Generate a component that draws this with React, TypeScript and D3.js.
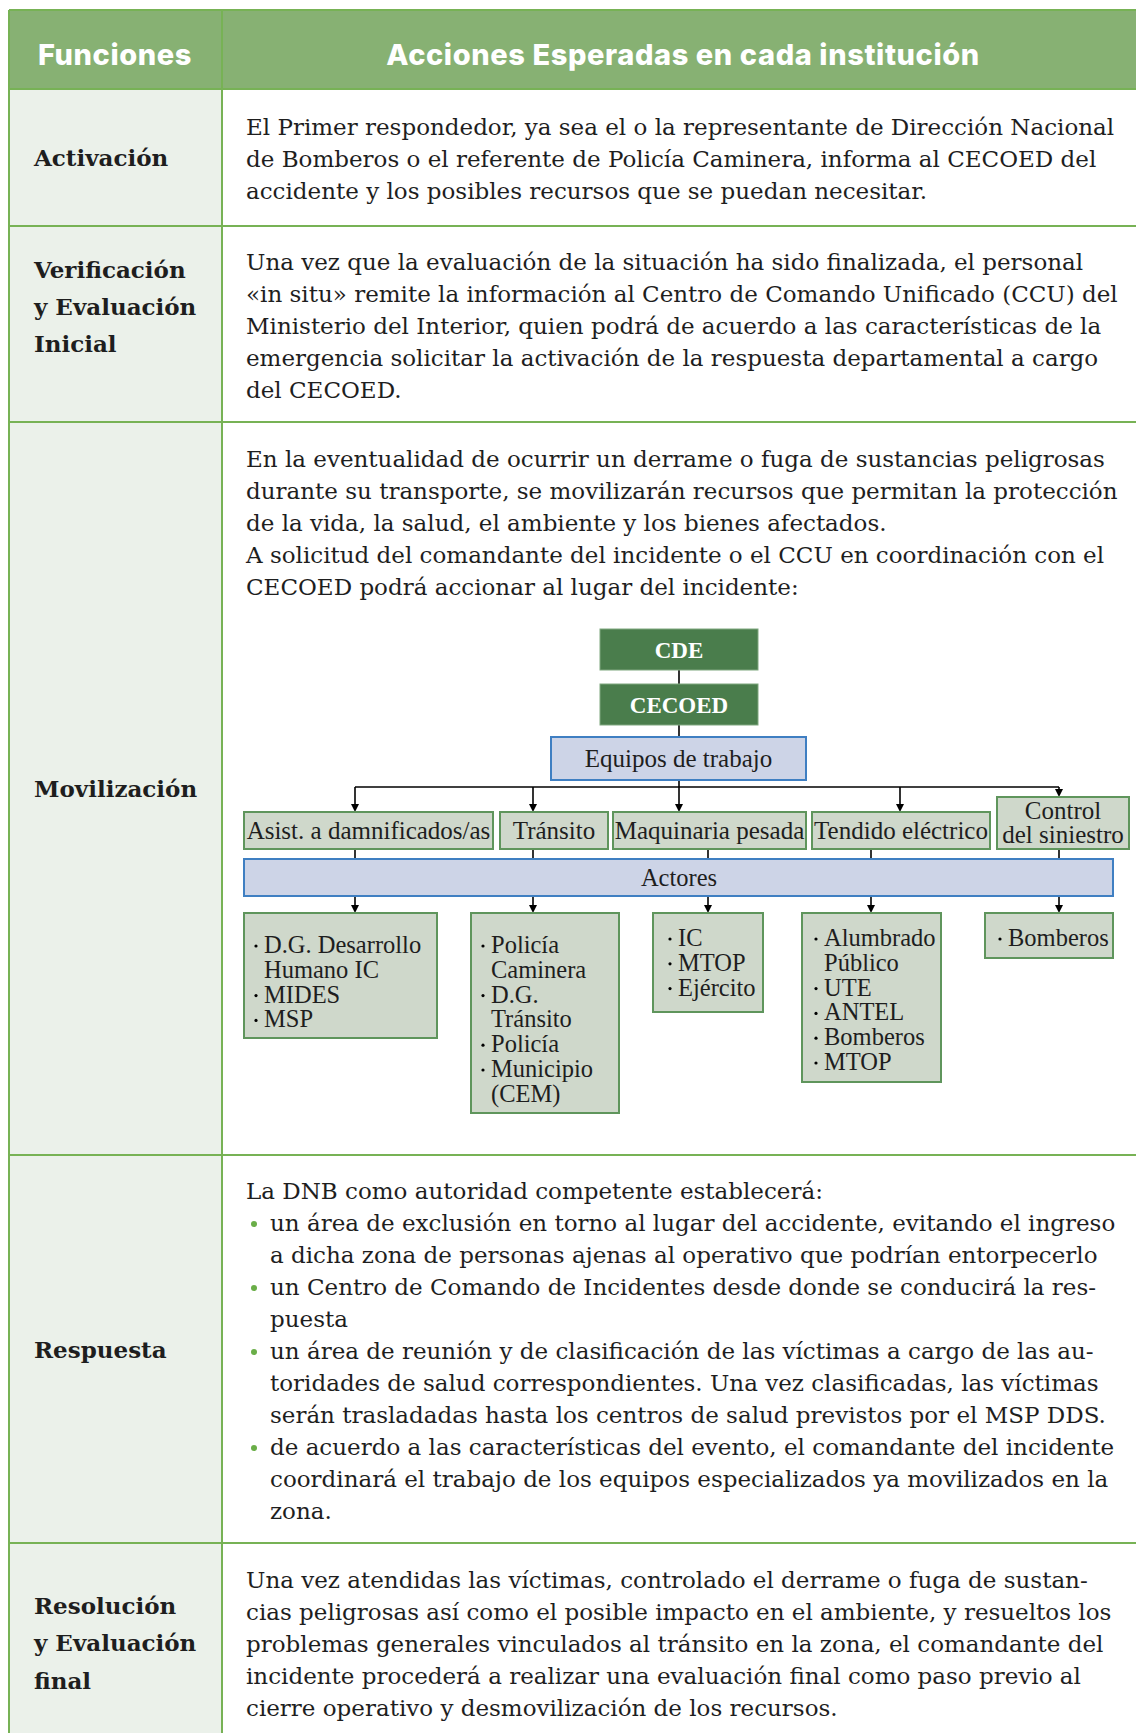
import React from 'react';
import * as d3 from 'd3';

// table content
const headers = ['Funciones', 'Acciones Esperadas en cada institución'];

const functionLabels = [
  ['Activación'],
  ['Verificación', 'y Evaluación', 'Inicial'],
  ['Movilización'],
  ['Respuesta'],
  ['Resolución', 'y Evaluación', 'final']
];

const activacionLines = [
  'El Primer respondedor, ya sea el o la representante de Dirección Nacional',
  'de Bomberos o el referente de Policía Caminera, informa al CECOED del',
  'accidente y los posibles recursos que se puedan necesitar.'
];

const verificacionLines = [
  'Una vez que la evaluación de la situación ha sido finalizada, el personal',
  '«in situ» remite la información al Centro de Comando Unificado (CCU) del',
  'Ministerio del Interior, quien podrá de acuerdo a las características de la',
  'emergencia solicitar la activación de la respuesta departamental a cargo',
  'del CECOED.'
];

const movilizacionLines = [
  'En la eventualidad de ocurrir un derrame o fuga de sustancias peligrosas',
  'durante su transporte, se movilizarán recursos que permitan la protección',
  'de la vida, la salud, el ambiente y los bienes afectados.',
  'A solicitud del comandante del incidente o el CCU en coordinación con el',
  'CECOED podrá accionar al lugar del incidente:'
];

// [text, kind] kind: 0 plain, 1 bullet start, 2 bullet continuation
const respuestaLines: [string, number][] = [
  ['La DNB como autoridad competente establecerá:', 0],
  ['un área de exclusión en torno al lugar del accidente, evitando el ingreso', 1],
  ['a dicha zona de personas ajenas al operativo que podrían entorpecerlo', 2],
  ['un Centro de Comando de Incidentes desde donde se conducirá la res-', 1],
  ['puesta', 2],
  ['un área de reunión y de clasificación de las víctimas a cargo de las au-', 1],
  ['toridades de salud correspondientes. Una vez clasificadas, las víctimas', 2],
  ['serán trasladadas hasta los centros de salud previstos por el MSP DDS.', 2],
  ['de acuerdo a las características del evento, el comandante del incidente', 1],
  ['coordinará el trabajo de los equipos especializados ya movilizados en la', 2],
  ['zona.', 2]
];

const resolucionLines = [
  'Una vez atendidas las víctimas, controlado el derrame o fuga de sustan-',
  'cias peligrosas así como el posible impacto en el ambiente, y resueltos los',
  'problemas generales vinculados al tránsito en la zona, el comandante del',
  'incidente procederá a realizar una evaluación final como paso previo al',
  'cierre operativo y desmovilización de los recursos.'
];

// diagram content
const commandNodes = ['CDE', 'CECOED'];
const teamsNode = 'Equipos de trabajo';
const teamLabels = [
  ['Asist. a damnificados/as'],
  ['Tránsito'],
  ['Maquinaria pesada'],
  ['Tendido eléctrico'],
  ['Control', 'del siniestro']
];
const actorsNode = 'Actores';
// [text, isBulletStart]
const actorGroups: [string, boolean][][] = [
  [['D.G. Desarrollo', true], ['Humano IC', false], ['MIDES', true], ['MSP', true]],
  [['Policía', true], ['Caminera', false], ['D.G.', true], ['Tránsito', false], ['Policía', true], ['Municipio', true], ['(CEM)', false]],
  [['IC', true], ['MTOP', true], ['Ejército', true]],
  [['Alumbrado', true], ['Público', false], ['UTE', true], ['ANTEL', true], ['Bomberos', true], ['MTOP', true]],
  [['Bomberos', true]]
];

const W = 1136;
const H = 1733;

const C = {
  grid: '#77b255',
  header: '#87b173',
  leftFill: '#ebf1ea',
  darkGreen: '#4a7d4c',
  lightBox: '#cfd8cb',
  lightBorder: '#5f955c',
  blueFill: '#cdd4e7',
  blueBorder: '#3f7fc2',
  bullet: '#6aae48',
  text: '#1e1e1e'
};

const bodyFont = '"DejaVu Serif", serif';
const diagFont = '"Liberation Serif", serif';

export default function App() {
  const tableLeft = 9;
  const colDiv = 222;
  const rowEdges = [10, 89, 226, 422, 1155, 1543, H];
  const textX = 246;
  const lineStep = 32;
  const bodySize = 23;

  // y positions via linear scales on line index
  const lineY = (first: number) => d3.scaleLinear().domain([0, 1]).range([first, first + lineStep]);

  const labelBase = [[166], [278, 315, 352], [797], [1358], [1614, 1651, 1689]];

  // diagram layout
  const cmdBox = { x0: 600, x1: 758 };
  const cmdY = [[629, 670], [684, 725]];
  const eqBox = { x0: 551, x1: 806, y0: 737, y1: 780 };
  const busY = 787;
  const teamBoxes = [
    { x0: 244, x1: 493, y0: 812, inX: 355, outX: 355 },
    { x0: 500, x1: 608, y0: 812, inX: 533, outX: 533 },
    { x0: 613, x1: 806, y0: 812, inX: 679, outX: 708 },
    { x0: 812, x1: 990, y0: 812, inX: 900, outX: 871 },
    { x0: 997, x1: 1129, y0: 797, inX: 1059, outX: 1059 }
  ];
  const teamY1 = 849;
  const actorsBar = { x0: 244, x1: 1113, y0: 859, y1: 896 };
  const groupBoxes = [
    { x0: 244, x1: 437, y1: 1038, first: 953, bx: 12 },
    { x0: 471, x1: 619, y1: 1113, first: 953, bx: 12 },
    { x0: 653, x1: 763, y1: 1012, first: 946, bx: 17 },
    { x0: 802, x1: 941, y1: 1082, first: 946, bx: 14 },
    { x0: 985, x1: 1113, y1: 958, first: 946, bx: 15 }
  ];
  const groupY0 = 913;
  const groupStep = 24.8;
  const teamSize = 25;
  const groupSize = 24.5;

  const seg = d3.line();
  const arrowHead = (x: number, y: number) => {
    const p = d3.path();
    p.moveTo(x - 4, y - 8);
    p.lineTo(x + 4, y - 8);
    p.lineTo(x, y);
    p.closePath();
    return p.toString();
  };

  const renderPara = (lines: string[], first: number) => {
    const y = lineY(first);
    return lines.map((t, i) => (
      <text key={i} x={textX} y={y(i)} fontFamily={bodyFont} fontSize={bodySize} fill={C.text}>{t}</text>
    ));
  };

  const respY = lineY(1199);

  return (
    <svg width={W} height={H} style={{ position: 'absolute', left: 0, top: 0, background: '#fff' }}>
      {/* header */}
      <rect x={tableLeft} y={rowEdges[0]} width={W - tableLeft} height={rowEdges[1] - rowEdges[0]} fill={C.header} />
      {/* left column fill */}
      <rect x={tableLeft} y={rowEdges[1]} width={colDiv - tableLeft} height={H - rowEdges[1]} fill={C.leftFill} />
      {/* grid */}
      {rowEdges.slice(0, -1).map((y, i) => (
        <path key={'h' + i} d={seg([[tableLeft, y], [W, y]]) || ''} stroke={C.grid} strokeWidth={2} />
      ))}
      <path d={seg([[tableLeft, rowEdges[0]], [tableLeft, H]]) || ''} stroke={C.grid} strokeWidth={2} />
      <path d={seg([[colDiv, rowEdges[0]], [colDiv, H]]) || ''} stroke={C.grid} strokeWidth={2} />

      <text x={115} y={65} textAnchor="middle" fontFamily="Inter, sans-serif" fontWeight={800} fontSize={29} letterSpacing={0.6} fill="#fff">{headers[0]}</text>
      <text x={(colDiv + W) / 2 + 4} y={65} textAnchor="middle" fontFamily="Inter, sans-serif" fontWeight={800} fontSize={29} letterSpacing={0.6} fill="#fff">{headers[1]}</text>

      {functionLabels.map((lines, r) =>
        lines.map((t, i) => (
          <text key={r + '-' + i} x={34} y={labelBase[r][i]} fontFamily={bodyFont} fontWeight={700} fontSize={23} fill={C.text}>{t}</text>
        ))
      )}

      {renderPara(activacionLines, 135)}
      {renderPara(verificacionLines, 270)}
      {renderPara(movilizacionLines, 467)}
      {respuestaLines.map(([t, k], i) => (
        <g key={'r' + i}>
          {k === 1 && <circle cx={254} cy={respY(i) - 7} r={3} fill={C.bullet} />}
          <text x={k === 0 ? textX : 270} y={respY(i)} fontFamily={bodyFont} fontSize={bodySize} fill={C.text}>{t}</text>
        </g>
      ))}
      {renderPara(resolucionLines, 1588)}

      {/* diagram connectors */}
      <g stroke="#000" strokeWidth={1.6} fill="none">
        <path d={seg([[679, cmdY[0][1]], [679, cmdY[1][0]]]) || ''} />
        <path d={seg([[679, cmdY[1][1]], [679, eqBox.y0]]) || ''} />
        <path d={seg([[679, eqBox.y1], [679, busY]]) || ''} />
        <path d={seg([[teamBoxes[0].inX, busY], [teamBoxes[4].inX, busY]]) || ''} />
        {teamBoxes.map((b, i) => (
          <path key={'in' + i} d={seg([[b.inX, busY], [b.inX, b.y0 - 6]]) || ''} />
        ))}
        {teamBoxes.map((b, i) => (
          <path key={'out' + i} d={seg([[b.outX, teamY1], [b.outX, actorsBar.y0]]) || ''} />
        ))}
        {teamBoxes.map((b, i) => (
          <path key={'down' + i} d={seg([[b.outX, actorsBar.y1], [b.outX, groupY0 - 6]]) || ''} />
        ))}
      </g>
      {teamBoxes.map((b, i) => (
        <path key={'ah' + i} d={arrowHead(b.inX, b.y0)} fill="#000" />
      ))}
      {teamBoxes.map((b, i) => (
        <path key={'ah2' + i} d={arrowHead(b.outX, groupY0)} fill="#000" />
      ))}

      {/* command boxes */}
      {commandNodes.map((t, i) => (
        <g key={'c' + i}>
          <rect x={cmdBox.x0} y={cmdY[i][0]} width={cmdBox.x1 - cmdBox.x0} height={cmdY[i][1] - cmdY[i][0]} fill={C.darkGreen} stroke="#7fa77f" strokeWidth={1} />
          <text x={(cmdBox.x0 + cmdBox.x1) / 2} y={(cmdY[i][0] + cmdY[i][1]) / 2 + 8} textAnchor="middle" fontFamily={diagFont} fontWeight={700} fontSize={23} fill="#fff">{t}</text>
        </g>
      ))}

      <rect x={eqBox.x0} y={eqBox.y0} width={eqBox.x1 - eqBox.x0} height={eqBox.y1 - eqBox.y0} fill={C.blueFill} stroke={C.blueBorder} strokeWidth={2} />
      <text x={(eqBox.x0 + eqBox.x1) / 2} y={(eqBox.y0 + eqBox.y1) / 2 + 8} textAnchor="middle" fontFamily={diagFont} fontSize={teamSize} fill={C.text}>{teamsNode}</text>

      {teamBoxes.map((b, i) => {
        const lines = teamLabels[i];
        const cy = (b.y0 + teamY1) / 2;
        return (
          <g key={'t' + i}>
            <rect x={b.x0} y={b.y0} width={b.x1 - b.x0} height={teamY1 - b.y0} fill={C.lightBox} stroke={C.lightBorder} strokeWidth={2} />
            {lines.map((t, j) => (
              <text key={j} x={(b.x0 + b.x1) / 2} y={cy + 8 + (j - (lines.length - 1) / 2) * 24} textAnchor="middle" fontFamily={diagFont} fontSize={teamSize} fill={C.text}>{t}</text>
            ))}
          </g>
        );
      })}

      <rect x={actorsBar.x0} y={actorsBar.y0} width={actorsBar.x1 - actorsBar.x0} height={actorsBar.y1 - actorsBar.y0} fill={C.blueFill} stroke={C.blueBorder} strokeWidth={2} />
      <text x={679} y={(actorsBar.y0 + actorsBar.y1) / 2 + 8} textAnchor="middle" fontFamily={diagFont} fontSize={groupSize} fill={C.text}>{actorsNode}</text>

      {groupBoxes.map((b, i) => (
        <g key={'g' + i}>
          <rect x={b.x0} y={groupY0} width={b.x1 - b.x0} height={b.y1 - groupY0} fill={C.lightBox} stroke={C.lightBorder} strokeWidth={2} />
          {actorGroups[i].map(([t, isB], j) => {
            const y = b.first + j * groupStep;
            return (
              <g key={j}>
                {isB && <circle cx={b.x0 + b.bx} cy={y - 7} r={1.6} fill="#000" />}
                <text x={b.x0 + b.bx + 8} y={y} fontFamily={diagFont} fontSize={groupSize} fill={C.text}>{t}</text>
              </g>
            );
          })}
        </g>
      ))}
    </svg>
  );
}
